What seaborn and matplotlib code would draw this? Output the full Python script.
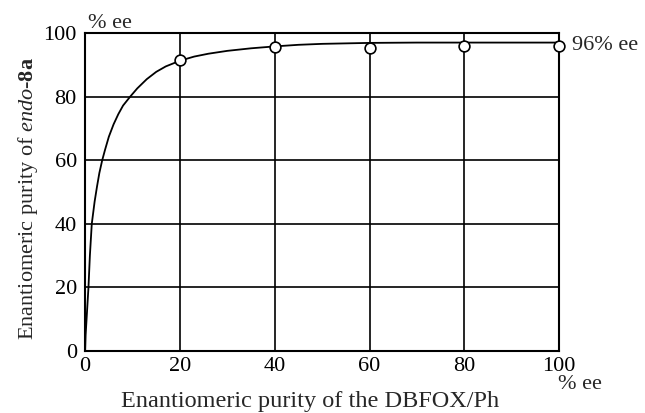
import matplotlib
matplotlib.use('Agg')
import matplotlib.pyplot as plt
import numpy as np
import pandas as pd
import seaborn as sns

# curve (DBFOX/Ph ee vs product ee)
curve_x = [0, 0.1, 0.3, 0.7, 1.0, 1.4, 2.0, 2.5, 3.0, 3.6, 4.2, 5, 6, 7, 8, 9.5, 11, 13, 15, 17,
           20, 23, 26, 30, 35, 40, 45, 50, 60, 70, 80, 90, 100]
curve_y = [0, 5, 10, 20, 30, 40, 47, 51.7, 56, 60, 63.3, 67.4, 71.3, 74.5, 77.2, 80, 82.6, 85.5, 87.8, 89.5,
           91.3, 92.6, 93.5, 94.4, 95.2, 95.8, 96.3, 96.6, 96.9, 97.0, 97.0, 97.0, 97.0]

# measured points
point_x = [20, 40, 60, 80, 100]
point_y = [91.4, 95.5, 95.4, 96.0, 95.9]

x_ticks = [0, 20, 40, 60, 80, 100]
y_ticks = [0, 20, 40, 60, 80, 100]

sns.set_style('whitegrid')
plt.rcParams['font.family'] = ['Liberation Serif', 'DejaVu Serif']
plt.rcParams['mathtext.fontset'] = 'custom'
plt.rcParams['mathtext.rm'] = 'Liberation Serif'
plt.rcParams['mathtext.it'] = 'Liberation Serif:italic'
plt.rcParams['mathtext.bf'] = 'Liberation Serif:bold'

df_curve = pd.DataFrame({'x': curve_x, 'y': curve_y})
df_points = pd.DataFrame({'x': point_x, 'y': point_y})

fig = plt.figure(figsize=(6.45, 4.13), dpi=100)
ax = fig.add_axes([0.132, 0.150, 0.735, 0.770])

sns.lineplot(data=df_curve, x='x', y='y', ax=ax, color='black', linewidth=1.3, sort=False)
sns.scatterplot(data=df_points, x='x', y='y', ax=ax, s=60, facecolor='white',
                edgecolor='black', linewidth=1.2, zorder=5, clip_on=False)

ax.set_xlim(0, 100)
ax.set_ylim(0, 100)
ax.set_xticks(x_ticks)
ax.set_yticks(y_ticks)
ax.tick_params(axis='both', length=0, labelsize=16, colors='black')
ax.tick_params(axis='x', pad=4)
ax.tick_params(axis='y', pad=6)
ax.grid(True, color='black', linewidth=1.2)
for s in ax.spines.values():
    s.set_color('black')
    s.set_linewidth(1.5)
    s.set_visible(True)

ax.set_xlabel('Enantiomeric purity of the DBFOX/Ph', fontsize=17.5)
ax.xaxis.set_label_coords(0.475, -0.125)
ax.set_ylabel(r'Enantiomeric purity of $\mathit{endo}$-$\mathbf{8a}$', fontsize=16)
ax.yaxis.set_label_coords(-0.095, 0.48)

ax.text(0.006, 1.016, '% ee', transform=ax.transAxes, fontsize=16, va='baseline', ha='left')
ax.text(0.998, -0.075, '% ee', transform=ax.transAxes, fontsize=16, va='top', ha='left')
ax.text(102.6, 96.2, '96% ee', fontsize=16, va='center', ha='left', clip_on=False)

fig.savefig('out.png', dpi=100)
